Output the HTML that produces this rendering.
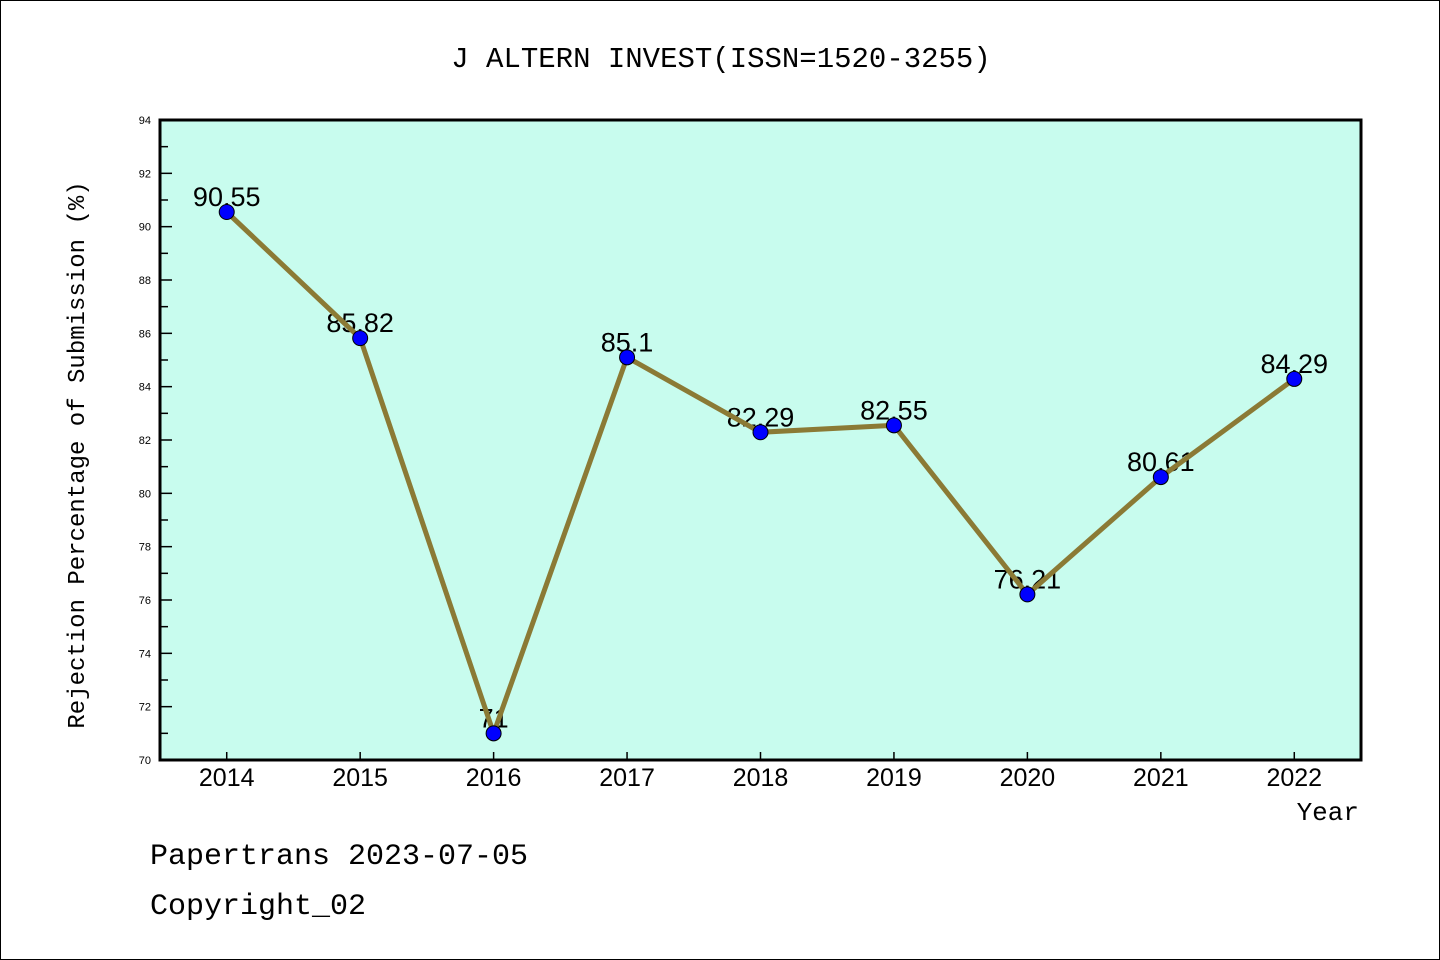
<!DOCTYPE html>
<html><head><meta charset="utf-8"><style>
html,body{margin:0;padding:0;background:#fff}
svg{display:block}
</style></head><body>
<svg id="chart" width="1440" height="960" xmlns="http://www.w3.org/2000/svg">
<rect x="0.5" y="0.5" width="1439" height="959" fill="#fff" stroke="#000" stroke-width="1"/>
<text x="721" y="67" text-anchor="middle" font-family="Liberation Mono, monospace" font-size="29">J ALTERN INVEST(ISSN=1520-3255)</text>
<rect x="160" y="120" width="1201" height="640" fill="#c8fcee"/>
<g id="yticks"></g><g id="xticks"></g>
<g id="labels"></g>
<polyline id="line" fill="none" stroke="#8b7a35" stroke-width="5" stroke-linejoin="round"/>
<g id="points"></g>
<rect x="160" y="120" width="1201" height="640" fill="none" stroke="#000" stroke-width="3"/>
<text transform="translate(84,455) rotate(-90)" text-anchor="middle" font-family="Liberation Mono, monospace" font-size="24">Rejection Percentage of Submission (%)</text>
<text x="1359" y="820" text-anchor="end" font-family="Liberation Mono, monospace" font-size="26">Year</text>
<text x="150" y="864" font-family="Liberation Mono, monospace" font-size="30">Papertrans 2023-07-05</text>
<text x="150" y="914" font-family="Liberation Mono, monospace" font-size="30">Copyright_02</text>
</svg>
<script>
const years = [2014,2015,2016,2017,2018,2019,2020,2021,2022];
const values = [90.55,85.82,71,85.1,82.29,82.55,76.21,80.61,84.29];
const valueLabels = ["90.55","85.82","71","85.1","82.29","82.55","76.21","80.61","84.29"];
const yTicks = [70,72,74,76,78,80,82,84,86,88,90,92,94];
const yMin=70,yMax=94,plotTop=120,plotBottom=760,plotLeft=160,plotRight=1361;
const xMin=2013.5,xMax=2022.5;
function yS(v){return plotBottom-(v-yMin)/(yMax-yMin)*(plotBottom-plotTop);}
function xS(v){return plotLeft+(v-xMin)/(xMax-xMin)*(plotRight-plotLeft);}
const NS="http://www.w3.org/2000/svg";
function mk(tag,attrs,parent,text){const e=document.createElementNS(NS,tag);for(const k in attrs)e.setAttribute(k,attrs[k]);if(text!==undefined)e.textContent=text;parent.appendChild(e);return e;}
const yt=document.getElementById('yticks');
yTicks.forEach((t,i)=>{
  const l=mk('line',{x1:plotLeft,x2:plotLeft+12,y1:yS(t),y2:yS(t),stroke:'#000','stroke-width':1.5},yt);
  
  
  const tx=mk('text',{x:151,y:yS(t)+4,'text-anchor':'end','font-family':'Liberation Sans, sans-serif','font-size':11},yt,String(t));
  
  
  if(i<yTicks.length-1){
    const m=mk('line',{x1:plotLeft,x2:plotLeft+8,y1:yS(t+1),y2:yS(t+1),stroke:'#000','stroke-width':1.5},yt);
    
    
  }
});
const xt=document.getElementById('xticks');
years.forEach(y=>{
  const l=mk('line',{x1:xS(y),x2:xS(y),y1:plotBottom,y2:plotBottom-8,stroke:'#000','stroke-width':1.5},xt);
  
  
  const tx=mk('text',{x:xS(y),y:plotBottom+26,'text-anchor':'middle','font-family':'Liberation Sans, sans-serif','font-size':25},xt,String(y));
  
  
});
const lg=document.getElementById('labels');
years.forEach((y,i)=>{
  const tx=mk('text',{x:xS(y),y:yS(values[i])-6,'text-anchor':'middle','font-family':'Liberation Sans, sans-serif','font-size':27},lg,valueLabels[i]);
  
  
});
document.getElementById('line').setAttribute('points',years.map((y,i)=>xS(y)+','+yS(values[i])).join(' '));
const pg=document.getElementById('points');
years.forEach((y,i)=>{
  const c=mk('circle',{cx:xS(y),cy:yS(values[i]),r:7.5,fill:'#0000ff',stroke:'#000','stroke-width':1},pg);
  
  
});
</script>
</body></html>
